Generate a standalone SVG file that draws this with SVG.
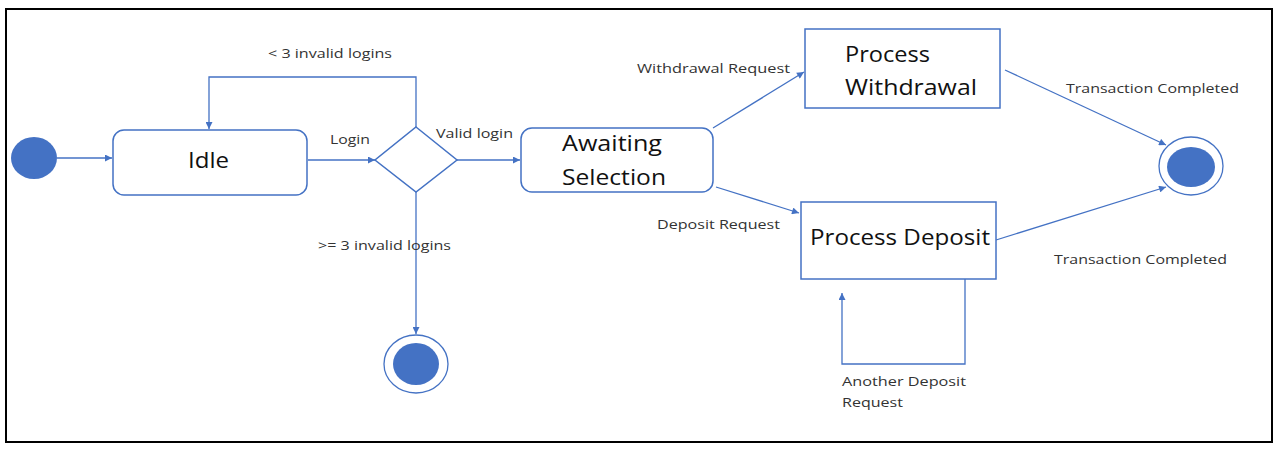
<svg xmlns="http://www.w3.org/2000/svg" width="1278" height="451" viewBox="0 0 1278 451">
<defs>
<marker id="ah" viewBox="0 0 10 10" refX="10" refY="5" markerWidth="8" markerHeight="7" markerUnits="userSpaceOnUse" orient="auto">
<path d="M0,0 L10,5 L0,10 z" fill="#4472C4"/>
</marker>
</defs>
<style>
.line{fill:none;stroke:#4472C4;stroke-width:1.3}
.box{fill:#fff;stroke:#4472C4;stroke-width:1.5}
.dot{fill:#4472C4}
.ring{fill:#fff;stroke:#4472C4;stroke-width:1.3}
.lbl{font-family:"Open Sans","Liberation Sans",Arial,sans-serif;font-size:13.5px;fill:#333}
.big{font-family:"Open Sans","Liberation Sans",Arial,sans-serif;font-size:22px;fill:#111}
</style>
<rect x="6" y="9" width="1266" height="433" fill="#fff" stroke="#000" stroke-width="2"/>
<g id="connectors">
<line class="line" x1="57" y1="158" x2="112" y2="158" marker-end="url(#ah)"/>
<line class="line" x1="308" y1="160" x2="375" y2="160" marker-end="url(#ah)"/>
<polyline class="line" points="416,127 416,77 209,77 209,129" marker-end="url(#ah)"/>
<line class="line" x1="457" y1="160" x2="520" y2="160" marker-end="url(#ah)"/>
<line class="line" x1="416" y1="192" x2="416" y2="334" marker-end="url(#ah)"/>
<line class="line" x1="713" y1="128" x2="804" y2="72" marker-end="url(#ah)"/>
<line class="line" x1="716" y1="187" x2="799" y2="213" marker-end="url(#ah)"/>
<polyline class="line" points="965,279 965,364 842,364 842,293" marker-end="url(#ah)"/>
<line class="line" x1="1005" y1="70" x2="1166" y2="145" marker-end="url(#ah)"/>
<line class="line" x1="996" y1="240" x2="1166" y2="187" marker-end="url(#ah)"/>
<text class="lbl" x="268" y="58" textLength="124" lengthAdjust="spacingAndGlyphs">&lt; 3 invalid logins</text>
<text class="lbl" x="330" y="144" textLength="40" lengthAdjust="spacingAndGlyphs">Login</text>
<text class="lbl" x="436" y="138" textLength="77" lengthAdjust="spacingAndGlyphs">Valid login</text>
<text class="lbl" x="318" y="250" textLength="133" lengthAdjust="spacingAndGlyphs">&gt;= 3 invalid logins</text>
<text class="lbl" x="637" y="73" textLength="153" lengthAdjust="spacingAndGlyphs">Withdrawal Request</text>
<text class="lbl" x="657" y="229" textLength="123" lengthAdjust="spacingAndGlyphs">Deposit Request</text>
<text class="lbl" x="1066" y="93" textLength="173" lengthAdjust="spacingAndGlyphs">Transaction Completed</text>
<text class="lbl" x="1054" y="264" textLength="173" lengthAdjust="spacingAndGlyphs">Transaction Completed</text>
<text class="lbl" x="842" y="386" textLength="124" lengthAdjust="spacingAndGlyphs">Another Deposit</text>
<text class="lbl" x="842" y="407" textLength="61" lengthAdjust="spacingAndGlyphs">Request</text>
</g>
<g id="start">
<ellipse class="dot" cx="34" cy="158" rx="23" ry="21"/>
</g>
<g id="idle">
<rect class="box" x="113" y="130" width="194" height="65" rx="11"/>
<text class="big" x="188" y="168" textLength="41" lengthAdjust="spacingAndGlyphs">Idle</text>
</g>
<g id="decision">
<polygon class="box" points="416,127 457,160 416,192 375,160"/>
</g>
<g id="awaiting">
<rect class="box" x="521" y="128" width="192" height="64" rx="11"/>
<text class="big" x="562" y="151" textLength="100" lengthAdjust="spacingAndGlyphs">Awaiting</text>
<text class="big" x="562" y="185" textLength="104" lengthAdjust="spacingAndGlyphs">Selection</text>
</g>
<g id="withdrawal">
<rect class="box" x="805" y="29" width="195" height="79"/>
<text class="big" x="845" y="62" textLength="85" lengthAdjust="spacingAndGlyphs">Process</text>
<text class="big" x="845" y="95" textLength="132" lengthAdjust="spacingAndGlyphs">Withdrawal</text>
</g>
<g id="deposit">
<rect class="box" x="801" y="202" width="195" height="77"/>
<text class="big" x="810" y="245" textLength="180" lengthAdjust="spacingAndGlyphs">Process Deposit</text>
</g>
<g id="end-right">
<ellipse class="ring" cx="1191" cy="166" rx="32" ry="29"/>
<ellipse class="dot" cx="1191" cy="167" rx="24" ry="20"/>
</g>
<g id="end-bottom">
<ellipse class="ring" cx="416" cy="364" rx="32" ry="29"/>
<ellipse class="dot" cx="416" cy="364" rx="23" ry="21"/>
</g>
</svg>
